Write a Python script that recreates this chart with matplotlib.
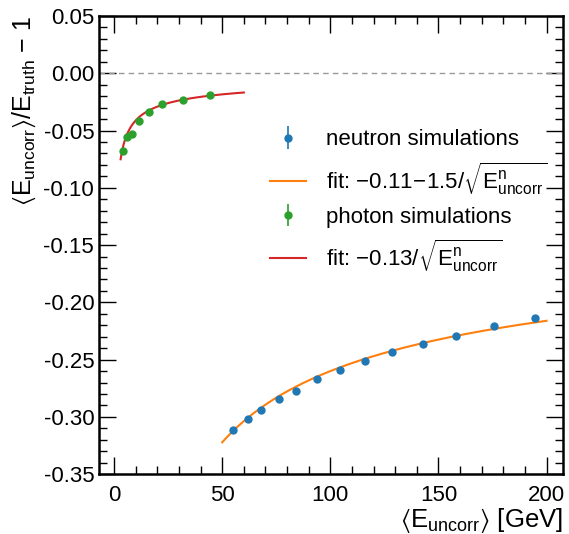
"""
Energy response of the uncorrected reconstruction vs. mean uncorrected energy,
for neutron and photon simulations, with the 1/sqrt(E) fits.
"""

import numpy as np
import matplotlib
matplotlib.use("Agg")
import matplotlib.pyplot as plt
from matplotlib.ticker import MultipleLocator

plt.rcParams["font.family"] = ["Liberation Sans", "DejaVu Sans"]
plt.rcParams["mathtext.fontset"] = "custom"
plt.rcParams["mathtext.rm"] = "Liberation Sans"
plt.rcParams["mathtext.it"] = "Liberation Sans:italic"
plt.rcParams["mathtext.default"] = "regular"

# ---------------------------------------------------------------------------
# DATA
# ---------------------------------------------------------------------------
neutron_e    = [55.2, 61.8, 68.0, 76.2, 84.2, 93.9, 104.6, 116.0, 128.6, 142.7, 157.9, 175.6, 194.5]
neutron_resp = [-0.311, -0.302, -0.294, -0.284, -0.277, -0.267, -0.259, -0.251, -0.243, -0.236, -0.229, -0.221, -0.214]
neutron_err  = [0.0008] * len(neutron_e)

photon_e    = [4.3, 5.9, 8.3, 11.4, 16.1, 22.3, 31.8, 44.2]
photon_resp = [-0.0675, -0.0552, -0.0530, -0.0416, -0.0338, -0.0271, -0.0233, -0.0192]
photon_err  = [0.0008] * len(photon_e)

# fit parameters quoted in the legend: a + b / sqrt(E)
NEUTRON_FIT = (-0.11, -1.5)
NEUTRON_FIT_RANGE = (50, 200)
PHOTON_FIT = (0.0, -0.13)
PHOTON_FIT_RANGE = (3, 60)


def fit_curve(params, lo, hi):
    a, b = params
    e = np.linspace(lo, hi, 300)
    return e, a + b / np.sqrt(e)


# ---------------------------------------------------------------------------
# PLOT
# ---------------------------------------------------------------------------
fig = plt.figure(figsize=(5.69, 5.34), dpi=100)
ax = fig.add_axes([0.174, 0.112, 0.815, 0.858])

ax.axhline(0, color="#999999", linestyle=(0, (4, 3)), linewidth=1.0)

h_n = ax.errorbar(neutron_e, neutron_resp, yerr=neutron_err, fmt="o", color="tab:blue",
                  markersize=5, elinewidth=1.2, label="neutron simulations", zorder=3)
x, y = fit_curve(NEUTRON_FIT, *NEUTRON_FIT_RANGE)
h_nf, = ax.plot(x, y, color="tab:orange", linewidth=1.5,
                label=r"fit: $-0.11\!-\!1.5/\sqrt{E^{n}_{uncorr}}$", zorder=2)

h_p = ax.errorbar(photon_e, photon_resp, yerr=photon_err, fmt="o", color="tab:green",
                  markersize=5, elinewidth=1.2, label="photon simulations", zorder=3)
x, y = fit_curve(PHOTON_FIT, *PHOTON_FIT_RANGE)
h_pf, = ax.plot(x, y, color="tab:red", linewidth=1.5,
                label=r"fit: $-0.13/\sqrt{E^{n}_{uncorr}}$", zorder=2)

ax.set_xlim(-7, 207.5)
ax.set_ylim(-0.35, 0.05)

ax.xaxis.set_major_locator(MultipleLocator(50))
ax.xaxis.set_minor_locator(MultipleLocator(10))
ax.yaxis.set_major_locator(MultipleLocator(0.05))
ax.yaxis.set_minor_locator(MultipleLocator(0.01))
ax.yaxis.set_major_formatter(lambda v, _: f"{v:.2f}".replace("\u2212", "-"))
ax.tick_params(which="both", direction="in", top=True, right=True, labelsize=16)
ax.tick_params(which="major", length=12, width=1.0)
ax.tick_params(which="minor", length=6, width=1.0)
ax.tick_params(axis="x", pad=8)
for sp in ax.spines.values():
    sp.set_linewidth(1.8)

ax.set_xlabel(r"$\langle E_{uncorr}\rangle$ [GeV]", fontsize=18.5, loc="right", labelpad=0)
ax.set_ylabel(r"$\langle E_{uncorr}\rangle/E_{truth}$ $-$ 1", fontsize=18, loc="top", labelpad=4)

handles = [h_n, h_nf, h_p, h_pf]
ax.legend(handles, [h.get_label() for h in handles],
          loc="upper left", bbox_to_anchor=(0.35, 0.772), borderaxespad=0,
          frameon=False, fontsize=16, handlelength=1.6, labelspacing=0.45,
          handletextpad=0.9)

fig.savefig("out.png", dpi=100)
